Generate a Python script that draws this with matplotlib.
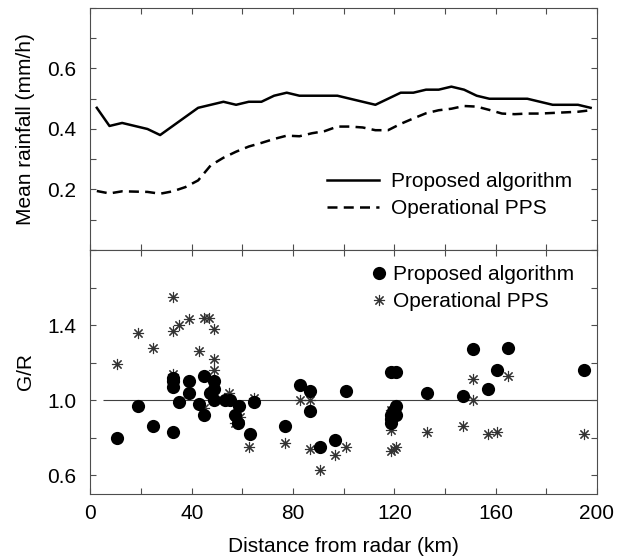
import matplotlib
matplotlib.use('Agg')
import matplotlib.pyplot as plt
from matplotlib.ticker import MultipleLocator

plt.rcParams['font.family'] = ['Liberation Sans', 'DejaVu Sans']
plt.rcParams['font.size'] = 15

# top panel: mean rainfall vs distance
dist = [2.5, 7.5, 12.5, 17.5, 22.5, 27.5, 32.5, 37.5, 42.5, 47.5,
        52.5, 57.5, 62.5, 67.5, 72.5, 77.5, 82.5, 87.5, 92.5, 97.5,
        102.5, 107.5, 112.5, 117.5, 122.5, 127.5, 132.5, 137.5, 142.5, 147.5,
        152.5, 157.5, 162.5, 167.5, 172.5, 177.5, 182.5, 187.5, 192.5, 197.5]
rain_proposed = [0.47, 0.41, 0.42, 0.41, 0.40, 0.38, 0.41, 0.44, 0.47, 0.48,
                 0.49, 0.48, 0.49, 0.49, 0.51, 0.52, 0.51, 0.51, 0.51, 0.51,
                 0.50, 0.49, 0.48, 0.50, 0.52, 0.52, 0.53, 0.53, 0.54, 0.53,
                 0.51, 0.50, 0.50, 0.50, 0.50, 0.49, 0.48, 0.48, 0.48, 0.47]
rain_pps = [0.195, 0.187, 0.194, 0.193, 0.192, 0.186, 0.194, 0.208, 0.23, 0.28,
            0.305, 0.325, 0.342, 0.354, 0.367, 0.378, 0.376, 0.386, 0.393, 0.408,
            0.408, 0.405, 0.396, 0.396, 0.417, 0.435, 0.452, 0.462, 0.467, 0.476,
            0.474, 0.463, 0.451, 0.449, 0.451, 0.451, 0.453, 0.455, 0.457, 0.462]

# bottom panel: gauge / radar ratios
gr_prop_x = [10.5, 18.7, 24.6, 32.7, 32.7, 32.7, 32.7, 34.8, 38.9, 38.9,
             42.7, 44.8, 44.8, 47.0, 48.7, 48.7, 48.7, 53.0, 55.0, 58.6,
             56.9, 58.2, 62.8, 64.6, 76.7, 82.9, 86.7, 86.7, 90.5, 96.7,
             100.7, 118.8, 120.8, 120.8, 120.8, 118.8, 118.8, 118.8, 119.5, 132.7,
             146.9, 150.9, 156.8, 160.7, 164.9, 195.0]
gr_prop_y = [0.80, 0.97, 0.86, 0.83, 1.12, 1.10, 1.07, 0.99, 1.10, 1.04,
             0.98, 1.13, 0.92, 1.04, 1.10, 1.06, 1.00, 1.00, 1.00, 0.97,
             0.92, 0.88, 0.82, 0.99, 0.86, 1.08, 1.05, 0.94, 0.75, 0.79,
             1.05, 1.15, 1.15, 0.97, 0.92, 0.92, 0.90, 0.88, 0.94, 1.04,
             1.02, 1.27, 1.06, 1.16, 1.28, 1.16]
gr_pps_x = [10.5, 18.7, 24.6, 32.7, 32.7, 34.8, 38.9, 44.8, 46.8, 48.7,
            42.7, 48.7, 32.7, 48.7, 44.8, 54.7, 56.9, 58.9, 64.6, 62.6,
            76.7, 82.9, 86.7, 86.7, 90.5, 96.7, 100.7, 118.8, 118.8, 118.8,
            119.8, 120.8, 132.7, 146.9, 150.9, 150.9, 156.8, 160.7, 164.9, 195.0]
gr_pps_y = [1.19, 1.36, 1.28, 1.55, 1.37, 1.40, 1.43, 1.44, 1.44, 1.38,
            1.26, 1.22, 1.14, 1.16, 0.96, 1.04, 0.88, 0.91, 1.01, 0.75,
            0.77, 1.00, 1.00, 0.74, 0.63, 0.71, 0.75, 0.95, 0.84, 0.73,
            0.74, 0.75, 0.83, 0.86, 1.11, 1.00, 0.82, 0.83, 1.13, 0.82]

fig, (ax1, ax2) = plt.subplots(2, 1, figsize=(6.24, 5.59), dpi=100, sharex=True,
                               gridspec_kw={'height_ratios': [242, 244]})
fig.subplots_adjust(left=0.145, right=0.9567, top=0.9857, bottom=0.1163, hspace=0)

ax1.plot(dist, rain_proposed, color='black', lw=1.8, label='Proposed algorithm')
ax1.plot(dist, rain_pps, color='black', lw=1.8, dashes=(4, 2.5), label='Operational PPS')
ax1.set_ylim(0, 0.8)
ax1.set_yticks([0.2, 0.4, 0.6])
ax1.yaxis.set_minor_locator(MultipleLocator(0.1))
ax1.set_ylabel('Mean rainfall (mm/h)', labelpad=9)
ax1.legend(loc='upper left', bbox_to_anchor=(327 / 624, 1 - 172 / 559),
           bbox_transform=fig.transFigure, frameon=False, borderpad=0,
           handlelength=2.5, handletextpad=0.55, labelspacing=0.4, borderaxespad=0)

ax2.hlines(1.0, 5, 200, color='0.25', lw=0.8, zorder=1)
ax2.plot(gr_prop_x, gr_prop_y, 'o', color='black', ms=9.5, mew=0, ls='none',
         label='Proposed algorithm', zorder=3)
ax2.plot(gr_pps_x, gr_pps_y, marker=(8, 2, 0), color='0.2', ms=8, mew=0.8, ls='none',
         label='Operational PPS', zorder=2)
ax2.set_ylim(0.5, 1.8)
ax2.set_yticks([0.6, 1.0, 1.4])
ax2.yaxis.set_minor_locator(MultipleLocator(0.2))
ax2.set_ylabel('G/R', labelpad=9)
ax2.set_xlim(0, 200)
ax2.set_xticks([0, 40, 80, 120, 160, 200])
ax2.xaxis.set_minor_locator(MultipleLocator(20))
ax2.set_xlabel('Distance from radar (km)', labelpad=10)
ax2.legend(loc='upper left', bbox_to_anchor=(369 / 624, 1 - 265 / 559),
           bbox_transform=fig.transFigure, frameon=False, borderpad=0,
           handlelength=1.0, handletextpad=0.15, labelspacing=0.4, borderaxespad=0)

for ax in (ax1, ax2):
    for s in ax.spines.values():
        s.set_linewidth(0.8)
        s.set_color('0.3')
    ax.tick_params(which='both', direction='in', top=True, right=True,
                   length=4.5, width=0.8, color='0.3')
    ax.tick_params(axis='y', pad=10)
    ax.tick_params(axis='x', pad=7)

fig.savefig('out.png', dpi=100)
